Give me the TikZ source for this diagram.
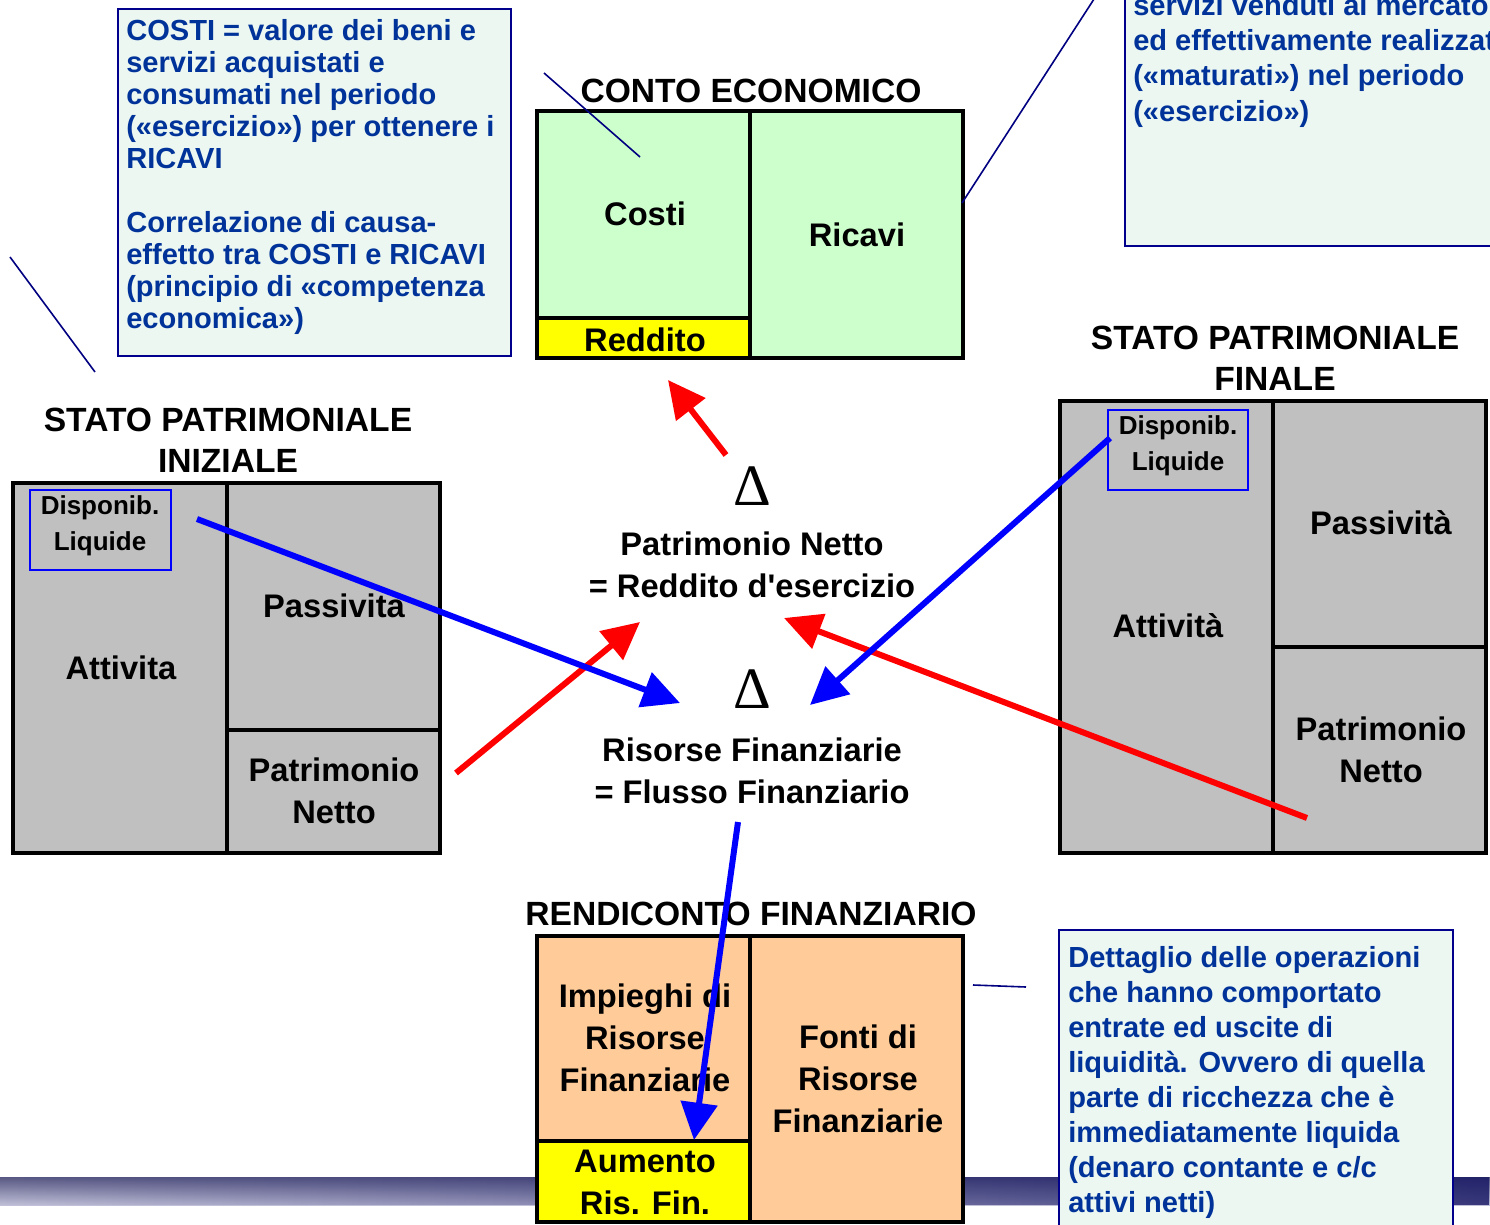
\documentclass[tikz,border=0pt]{standalone}
\usepackage{fontspec}
\setmainfont{Liberation Sans}
\newfontfamily\deltafont{Liberation Serif}
\usetikzlibrary{arrows.meta,fadings}
\definecolor{cegreen}{RGB}{204,255,204}
\definecolor{spgray}{RGB}{192,192,192}
\definecolor{rfpeach}{RGB}{255,204,153}
\definecolor{ylw}{RGB}{255,255,0}
\definecolor{callfill}{RGB}{236,247,241}
\definecolor{callborder}{RGB}{0,0,140}
\definecolor{calltext}{RGB}{0,51,153}
\definecolor{leader}{RGB}{0,0,128}
\definecolor{bandTop}{RGB}{88,88,132}
\definecolor{bandBot}{RGB}{192,192,216}
\definecolor{bandR}{RGB}{22,22,100}
\definecolor{pureblue}{RGB}{0,0,255}
\definecolor{purered}{RGB}{255,0,0}
\begin{document}
\begin{tikzpicture}[x=0.75pt,y=-0.75pt,
  panel/.style={draw=black,line width=3pt},
  lbl/.style={font=\bfseries\fontsize{24.5}{31.5}\selectfont,align=center,inner sep=0pt},
  ttl/.style={font=\bfseries\fontsize{25.2}{30.75}\selectfont,align=center,inner sep=0pt},
  smalllbl/.style={font=\bfseries\fontsize{19.5}{27}\selectfont,align=center,inner sep=0pt},
  dispbox/.style={draw=pureblue,line width=1.5pt},
  callout/.style={fill=callfill,draw=callborder,line width=1.5pt},
  calltxt/.style={font=\bfseries\fontsize{21.8}{24}\selectfont,text=calltext,align=left,inner sep=0pt,anchor=north west},
  leaderline/.style={draw=leader,line width=1.2pt},
  redarrow/.style={draw=purered,line width=4.5pt,-{Triangle[length=28pt,width=27pt]}},
  bluearrow/.style={draw=pureblue,line width=4.5pt,-{Triangle[length=28pt,width=27pt]}},
  deltasym/.style={font=\deltafont\fontsize{44}{44}\selectfont,inner sep=0pt}
]
\useasboundingbox (0,0) rectangle (1490,1225);
\clip (0,0) rectangle (1490,1225);

% bottom band
\shade[top color=bandTop,bottom color=bandBot] (0,1177) rectangle (1490,1205);
\fill[bandR,fill opacity=0.8,path fading=west] (0,1177) rectangle (1490,1205);

% callouts
\path[callout] (118,9) rectangle (511,356);
\node[calltxt] (costitxt) at (126,19) {COSTI = valore dei beni e\\servizi acquistati e\\consumati nel periodo\\(«esercizio») per ottenere i\\RICAVI\\ \\Correlazione di causa-\\effetto tra COSTI e RICAVI\\(principio di «competenza\\economica»)};

\path[callout] (1125,-10) rectangle (1500,246);
\node[calltxt,font=\bfseries\fontsize{21.8}{26.5}\selectfont] (ricavitxt) at (1133,-6) {servizi venduti al mercato\\ed effettivamente realizzati\\(«maturati») nel periodo\\(«esercizio»)};

\path[callout] (1059,930) rectangle (1453,1240);
\node[calltxt,font=\bfseries\fontsize{21.8}{26.25}\selectfont] (rftxt) at (1068,946) {Dettaglio delle operazioni\\che hanno comportato\\entrate ed uscite di\\liquidità. Ovvero di quella\\parte di ricchezza che è\\immediatamente liquida\\(denaro contante e c/c\\attivi netti)};

% CONTO ECONOMICO
\node[ttl] (cetitle) at (751,91) {CONTO ECONOMICO};
\path[panel,fill=cegreen] (537,111) rectangle (750,318);
\path[panel,fill=ylw] (537,318) rectangle (750,358);
\path[panel,fill=cegreen] (750,111) rectangle (963,358);
\node[lbl] (costi) at (645,214) {Costi};
\node[lbl] (reddito) at (645,340) {Reddito};
\node[lbl] (ricavi) at (857,235) {Ricavi};

% SP iniziale
\node[ttl] (spititle) at (228,440) {STATO PATRIMONIALE\\INIZIALE};
\path[panel,fill=spgray] (13,483) rectangle (227,853);
\path[panel,fill=spgray] (227,483) rectangle (440,730);
\path[panel,fill=spgray] (227,730) rectangle (440,853);
\path[dispbox] (30,490) rectangle (171,570);
\node[smalllbl] (dispi) at (100,526) {Disponib.\\Liquide};
\node[lbl] (attivi) at (121,668) {Attivita};
\node[lbl] (passi) at (334,606) {Passivita};
\node[lbl] (pni) at (334,791) {Patrimonio\\Netto};

% SP finale
\node[ttl] (spftitle) at (1275,358) {STATO PATRIMONIALE\\FINALE};
\path[panel,fill=spgray] (1060,401) rectangle (1273,853);
\path[panel,fill=spgray] (1273,401) rectangle (1486,647);
\path[panel,fill=spgray] (1273,647) rectangle (1486,853);
\path[dispbox] (1108,410) rectangle (1248,490);
\node[smalllbl] (dispf) at (1178,446) {Disponib.\\Liquide};
\node[lbl] (attivf) at (1168,626) {Attività};
\node[lbl] (passf) at (1381,523) {Passività};
\node[lbl] (pnf) at (1381,750) {Patrimonio\\Netto};

% Rendiconto finanziario
\node[ttl] (rftitle) at (751,914) {RENDICONTO FINANZIARIO};
\path[panel,fill=rfpeach] (537,936) rectangle (750,1141);
\path[panel,fill=ylw] (537,1141) rectangle (750,1222);
\path[panel,fill=rfpeach] (750,936) rectangle (963,1222);
\node[lbl] (impieghi) at (645,1038) {Impieghi di\\Risorse\\Finanziarie};
\node[lbl] (aumento) at (645,1182) {Aumento\\Ris. Fin.};
\node[lbl] (fonti) at (858,1079) {Fonti di\\Risorse\\Finanziarie};

% centre
\node[deltasym] (delta1) at (752,486) {Δ};
\node[lbl] (pnred) at (752,565) {Patrimonio Netto\\= Reddito d\textquotesingle esercizio};
\node[deltasym] (delta2) at (752,689) {Δ};
\node[lbl] (risfin) at (752,771) {Risorse Finanziarie\\= Flusso Finanziario};

% leader lines
\coordinate (l1a) at (10,257);   \coordinate (l1b) at (95,372);
\coordinate (l2a) at (544,73);   \coordinate (l2b) at (640,157);
\coordinate (l3a) at (962,203);  \coordinate (l3b) at (1096,-4);
\coordinate (l4a) at (973,985);  \coordinate (l4b) at (1026,987);
\draw[leaderline] (l1a) -- (l1b);
\draw[leaderline] (l2a) -- (l2b);
\draw[leaderline] (l3a) -- (l3b);
\draw[leaderline] (l4a) -- (l4b);

% arrows
\coordinate (r1s) at (726,455);  \coordinate (r1e) at (668,380);
\coordinate (r2s) at (456,773);  \coordinate (r2e) at (640,622);
\coordinate (r3s) at (1307,818); \coordinate (r3e) at (784,618);
\coordinate (b1s) at (197,519);  \coordinate (b1e) at (680,703);
\coordinate (b2s) at (1110,438); \coordinate (b2e) at (810,705);
\coordinate (b3s) at (738,822);  \coordinate (b3e) at (694,1140);
\draw[redarrow] (r1s) -- (r1e);
\draw[redarrow] (r2s) -- (r2e);
\draw[redarrow] (r3s) -- (r3e);
\draw[bluearrow] (b1s) -- (b1e);
\draw[bluearrow] (b2s) -- (b2e);
\draw[bluearrow] (b3s) -- (b3e);
\end{tikzpicture}
\end{document}
